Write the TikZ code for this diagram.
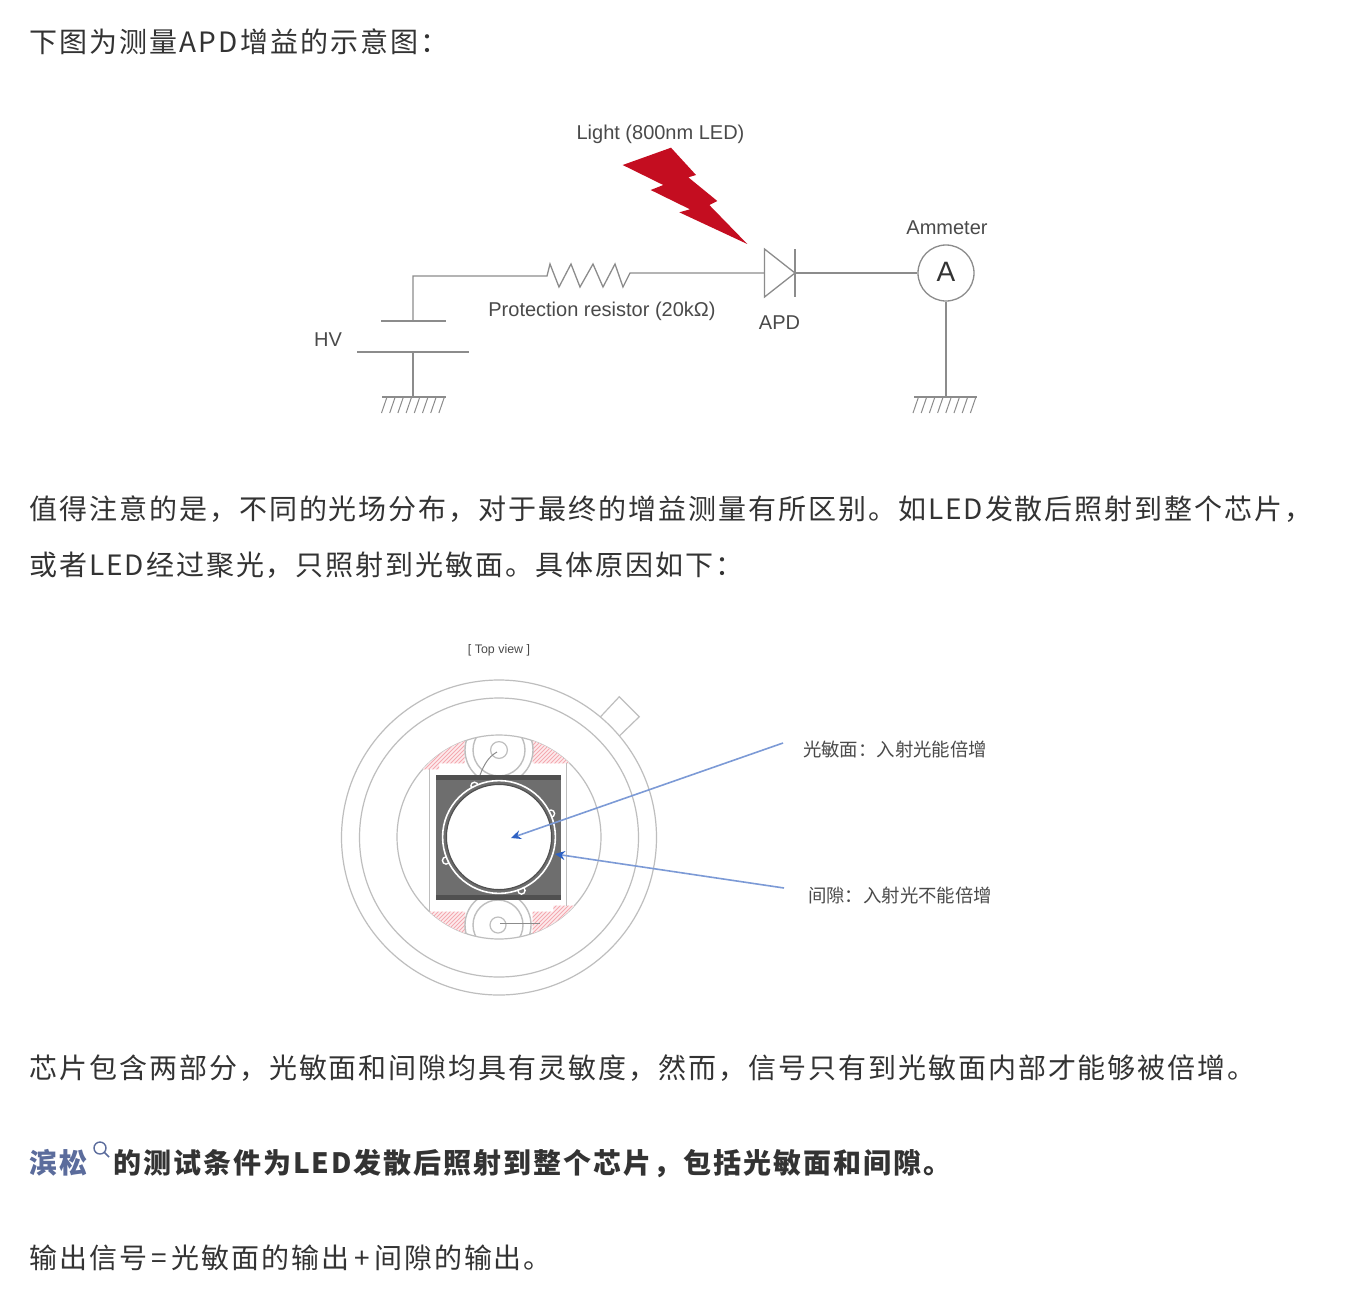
\documentclass[tikz,border=0pt]{standalone}
\usepackage{fontspec}
\setmainfont{Liberation Sans}
\newfontfamily\cjk[LetterSpace=7]{Noto Sans CJK SC}
\newfontfamily\cjklabel{Noto Sans CJK SC}
\usetikzlibrary{arrows.meta}
\definecolor{bodytext}{HTML}{333333}
\definecolor{figtext}{HTML}{4A4A4A}
\definecolor{wire}{HTML}{8C8C8C}
\definecolor{thinline}{HTML}{BEBEBE}
\definecolor{linkblue}{HTML}{5B6C9C}
\definecolor{boltred}{HTML}{C40D20}
\definecolor{arrowblue}{HTML}{7C9AD6}
\definecolor{tipblue}{HTML}{2E62C4}
\definecolor{hatchpink}{HTML}{F4A9B0}
\definecolor{fillpink}{HTML}{FDEBED}
\definecolor{chipgray}{HTML}{6E6E6E}
\definecolor{chipdark}{HTML}{505050}
\tikzset{
  para/.style={anchor=base west,inner sep=0pt,text=bodytext,font=\fontsize{14pt}{16pt}\selectfont\cjk},
  fig/.style={inner sep=0pt,text=figtext,font=\fontsize{10pt}{12pt}\selectfont},
  figcjk/.style={inner sep=0pt,text=figtext,font=\fontsize{9.2pt}{11pt}\selectfont\cjklabel},
  wireline/.style={draw=wire,line width=0.65pt},
  hatchline/.style={draw=wire,line width=0.5pt},
  pale/.style={draw=thinline,line width=0.6pt},
  bluearrow/.style={draw=arrowblue,line width=0.8pt,-{Stealth[length=5pt,width=4.5pt,color=tipblue]}},
}
\begin{document}
\begin{tikzpicture}[x=0.5pt,y=-0.5pt]
\useasboundingbox (0,0) rectangle (1361,1313);
\fill[white] (0,0) rectangle (1361,1313);

% paragraphs
\node[para] (p1) at (29,52) {下图为测量A\kern1.2pt P\kern1.2pt D\kern1.4pt 增益的示意图：};
\node[para] (p2) at (29,519) {值得注意的是，不同的光场分布，对于最终的增益测量有所区别。如LED发散后照射到整个芯片，};
\node[para] (p3) at (29,575) {或者LED经过聚光，只照射到光敏面。具体原因如下：};
\node[para] (p4) at (29,1078) {芯片包含两部分，光敏面和间隙均具有灵敏度，然而，信号只有到光敏面内部才能够被倍增。};
\node[para,text=linkblue,font=\fontsize{14pt}{16pt}\selectfont\cjk\bfseries] (p5a) at (29,1173) {滨松};
\node[para,font=\fontsize{14pt}{16pt}\selectfont\cjk\bfseries] (p5b) at (113,1173) {的测试条件为LED发散后照射到整个芯片，包括光敏面和间隙。};
\node[para] (p6) at (29,1268) {输出信号\kern2.25pt=\kern2.25pt 光敏面的输出\kern2.25pt+\kern2.25pt 间隙的输出。};
\draw[linkblue,line width=0.7pt] (100,1148) circle[radius=3pt];
\draw[linkblue,line width=0.8pt] (104.5,1152.5) -- (109,1157);

% --- circuit ---
\coordinate (corner) at (413,276);
\coordinate (rin) at (547,276);
\coordinate (rout) at (630,273);
\coordinate (dl) at (764.5,273);
\coordinate (dr) at (795,273);
\coordinate (c1) at (413,321);
\coordinate (c2) at (413,352);
\coordinate (g1) at (413,397);
\coordinate (g2) at (946,397);
\node[circle,draw=wire,line width=0.65pt,minimum size=28pt,inner sep=0pt,text=bodytext,font=\fontsize{14pt}{16pt}\selectfont] (ammeter) at (946,273) {\raisebox{1pt}{A}};

\draw[wireline] (c1) -- (corner) -- (rin) -- (550,264) -- (559,287) -- (571,264) -- (580,287) -- (593,264) -- (603,287) -- (615,264) -- (623,287) -- (rout) -- (dl);
\draw[wireline] (764.5,249) -- (764.5,297) -- (dr) -- cycle;
\draw[wireline] (795,249) -- (795,297);
\draw[wireline] (dr) -- (ammeter);
\draw[wireline] (ammeter) -- (g2);
\draw[wireline] (381,321) -- (445.5,321);
\draw[wireline] (357,352) -- (469,352);
\draw[wireline] (c2) -- (g1);
\draw[wireline] (382,397) -- (445.5,397);
\draw[wireline] (914,397) -- (977,397);
\foreach \i in {0,...,7}{
  \draw[hatchline] ({387+8.2*\i},397) -- ({381.5+8.2*\i},413);
  \draw[hatchline] ({918.5+8.2*\i},397) -- ({913+8.2*\i},413);
}
\fill[boltred] (622.7,165) -- (671,147.7) -- (696,175) -- (688.3,177.3) -- (717.3,201) -- (709.3,205) -- (747.3,244) -- (679.3,212.3) -- (690,209.3) -- (650.7,190) -- (663.3,185) -- cycle;

\node[fig] (lightlab) at (660.5,134) {Light (800nm LED)};
\node[fig] (reslab) at (602,311) {Protection resistor (20kΩ)};
\node[fig] (hvlab) at (328,339.5) {HV};
\node[fig] (apdlab) at (779.5,323) {APD};
\node[fig] (amlab) at (947,228) {Ammeter};

% --- top view ---
\node[inner sep=0pt,text=figtext,font=\fontsize{6.2pt}{7pt}\selectfont] (topview) at (499,650) {[ Top view ]};
\draw[pale] (600,717.3) -- (619.3,696.7) -- (639.3,716.7) -- (619.3,736);
\draw[pale,fill=white] (499,837.5) circle[radius=78.75pt];
\draw[pale] (499,837.5) circle[radius=69.75pt];
\draw[pale] (499,837) circle[radius=51pt];
\begin{scope}
  \clip (499,837) circle[radius=51pt];
  \begin{scope}
    \clip (428.3,769.3) -- (439,769.3) -- (439,763.3) -- (464.5,763.3) -- (464.5,730) -- (420,730) -- (420,769.3) -- cycle
          (532.7,730) -- (532.7,763.3) -- (575,763.3) -- (575,730) -- cycle
          (420,911.7) -- (465,911.7) -- (465,945) -- (420,945) -- cycle
          (532.7,945) -- (532.7,911.7) -- (553.3,911.7) -- (553.3,905.7) -- (575,905.7) -- (575,945) -- cycle;
    \fill[fillpink] (420,730) rectangle (575,945);
    \foreach \c in {1150,1154,...,1520}{
      \draw[hatchpink,line width=0.45pt] (420,\c-420) -- (575,\c-575);
    }
  \end{scope}
  \draw[pale,line width=0.7pt] (499,750) circle[radius=13pt];
  \draw[pale,line width=0.7pt] (499,750) circle[radius=17pt];
  \draw[pale,line width=0.7pt] (498,925) circle[radius=12.5pt];
  \draw[pale,line width=0.7pt] (498,925) circle[radius=16.5pt];
\end{scope}
\draw[pale] (429.3,769) -- (429.3,911.7);
\draw[pale] (566.7,763.3) -- (566.7,905.7);
\draw[pale,fill=white] (499,750) circle[radius=4.2pt];
\draw[draw=wire,line width=0.5pt] (497,752) .. controls (488,757) and (484,765) .. (480,775);
\draw[pale,fill=white] (498,925) circle[radius=4pt];
\draw[draw=wire,line width=0.5pt] (500,923) -- (540,923);
% chip
\fill[chipgray] (436,775) rectangle (561.3,900);
\fill[chipdark] (436,775) rectangle (561.3,780);
\fill[chipdark] (436,895) rectangle (561.3,900);
\foreach \px/\py in {474.5/785.8,551/813.6,446/860.5,521.5/890.5}{
  \draw[white,fill=chipgray,line width=0.7pt] (\px,\py) circle[radius=1.8pt];
}
\draw[white,fill=chipgray,line width=0.8pt] (499,837) circle[radius=28.2pt];
\draw[chipdark,fill=white,line width=0.6pt] (499,837) circle[radius=26.3pt];

% labels and arrows
\coordinate (photoend) at (783,743);
\coordinate (phototip) at (511,838);
\coordinate (gapend) at (784,888);
\coordinate (gaptip) at (555,854);
\draw[bluearrow] (photoend) -- (phototip);
\draw[bluearrow] (gapend) -- (gaptip);
\node[figcjk] (photolab) at (895,749) {光敏面：入射光能倍增};
\node[figcjk] (gaplab) at (900,895) {间隙：入射光不能倍增};
\end{tikzpicture}
\end{document}
